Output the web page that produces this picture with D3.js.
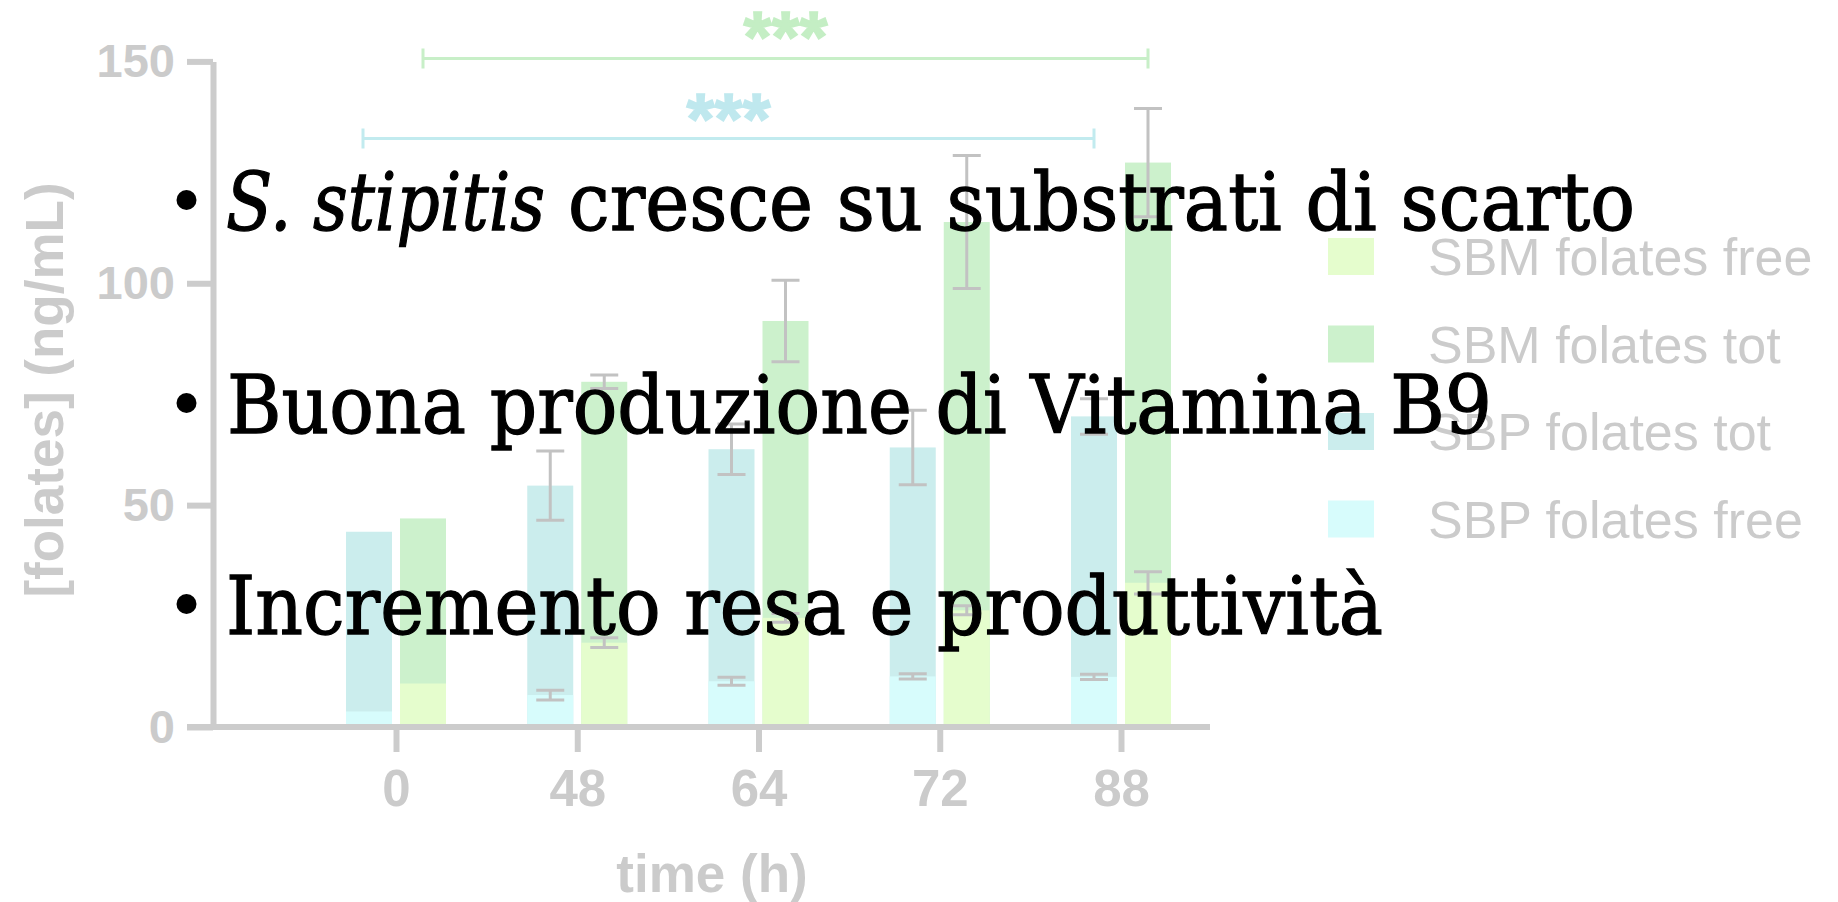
<!DOCTYPE html>
<html>
<head>
<meta charset="utf-8">
<script src="https://cdn.jsdelivr.net/npm/d3@7"></script>
<style>
  html, body { margin: 0; padding: 0; background: #fff; }
  svg { display: block; }
</style>
</head>
<body>
<div id="chart"></div>
<script>
// folates bar chart with slide bullets on top

const times = ["0", "48", "64", "72", "88"];
const sbpTot = [44, 54.4, 62.6, 63, 70];
const sbpTotErr = [0, 7.8, 5.7, 8.4, 4];
const sbpFree = [3.5, 7.2, 10.3, 11.4, 11.3];
const sbpFreeErr = [0, 1.1, 0.9, 0.6, 0.6];
const sbmTot = [47, 77.8, 91.5, 113.8, 127.2];
const sbmTotErr = [0, 1.5, 9.2, 15, 12.2];
const sbmFree = [9.8, 19, 24.6, 26.3, 32.5];
const sbmFreeErr = [0, 1.1, 1, 1, 2.5];
const yTicks = [0, 50, 100, 150];
const legendLabels = ["SBM folates free", "SBM folates tot", "SBP folates tot", "SBP folates free"];
const bullets = [
        [{ t: "S. stipitis", italic: true }, { t: "cresce su substrati di scarto", italic: false }],
        [{ t: "Buona produzione di Vitamina B9", italic: false }],
        [{ t: "Incremento resa e produttività", italic: false }]
];

const width = 1838,
      height = 902;
const grey = "#cbcbcb";
const axisGrey = "#cccccc";
const col = { sbmFree: "#e5fdcd", sbmTot: "#ccf1cc", sbpTot: "#cbeded", sbpFree: "#d7fcfc" };
const sansFont = "'Liberation Sans', Arial, sans-serif";

const svg = d3.select("#chart")
        .append("svg")
        .attr("width", width)
        .attr("height", height);

svg.append("rect").attr("width", width).attr("height", height).attr("fill", "#fff");

const y = d3.scaleLinear().domain([0, 150]).range([727, 61.4]);
const x = d3.scalePoint().domain(times).range([396, 1121]);
const barW = 46, gap = 4;

// rows for the bars
const rows = times.map((t, i) => ({
        t: t,
        sbpTot: sbpTot[i], sbpTotErr: sbpTotErr[i],
        sbpFree: sbpFree[i], sbpFreeErr: sbpFreeErr[i],
        sbmTot: sbmTot[i], sbmTotErr: sbmTotErr[i],
        sbmFree: sbmFree[i], sbmFreeErr: sbmFreeErr[i]
}));
const series = [
        { key: "sbpTot", err: "sbpTotErr", side: -1, color: col.sbpTot },
        { key: "sbpFree", err: "sbpFreeErr", side: -1, color: col.sbpFree },
        { key: "sbmTot", err: "sbmTotErr", side: 1, color: col.sbmTot },
        { key: "sbmFree", err: "sbmFreeErr", side: 1, color: col.sbmFree }
];
const barX = (t, side) => side < 0 ? x(t) - gap - barW : x(t) + gap;

const bars_g = svg.append("g").attr("id", "bars");
series.forEach(s => {
        bars_g.append("g")
                .selectAll("rect")
                .data(rows)
                .join("rect")
                .attr("x", d => barX(d.t, s.side))
                .attr("y", d => y(d[s.key]))
                .attr("width", barW)
                .attr("height", d => y(0) - y(d[s.key]))
                .attr("fill", s.color);
});

// error bars
const err_g = svg.append("g").attr("id", "errors")
        .attr("stroke", "#c2c2c2")
        .attr("stroke-width", 3)
        .attr("fill", "none");
series.forEach(s => {
        const d_ = rows.filter(d => d[s.err] > 0);
        err_g.append("g")
                .selectAll("path")
                .data(d_)
                .join("path")
                .attr("d", d => {
                        const cx = barX(d.t, s.side) + barW / 2;
                        const y1 = y(d[s.key] + d[s.err]), y2 = y(d[s.key] - d[s.err]);
                        return `M${cx - 14},${y1}H${cx + 14}M${cx},${y1}V${y2}M${cx - 14},${y2}H${cx + 14}`;
                });
});

// axes
const yAxis = d3.axisLeft(y).tickValues(yTicks).tickSize(26).tickPadding(12).tickSizeOuter(0);
const yAxis_g = svg.append("g")
        .attr("transform", "translate(213,0)")
        .call(yAxis);
yAxis_g.selectAll("path,line").attr("stroke", axisGrey).attr("stroke-width", 6);
yAxis_g.selectAll("text")
        .attr("fill", grey)
        .attr("font-family", sansFont)
        .attr("font-weight", "bold")
        .attr("font-size", 47);

svg.append("line")
        .attr("x1", 187).attr("x2", 1210)
        .attr("y1", y(0)).attr("y2", y(0))
        .attr("stroke", axisGrey)
        .attr("stroke-width", 6);

const xAxis_g = svg.append("g")
        .attr("transform", `translate(0,${y(0)})`)
        .call(d3.axisBottom(x).tickSize(25).tickPadding(18));
xAxis_g.select(".domain").remove();
xAxis_g.selectAll("line").attr("stroke", axisGrey).attr("stroke-width", 6);
xAxis_g.selectAll("text")
        .attr("fill", grey)
        .attr("font-family", sansFont)
        .attr("font-weight", "bold")
        .attr("font-size", 51);

svg.append("text")
        .attr("x", 712)
        .attr("y", 892)
        .attr("text-anchor", "middle")
        .attr("fill", grey)
        .attr("font-family", sansFont)
        .attr("font-weight", "bold")
        .attr("font-size", 53)
        .text("time (h)");

svg.append("text")
        .attr("transform", "translate(63,390) rotate(-90)")
        .attr("text-anchor", "middle")
        .attr("fill", grey)
        .attr("font-family", sansFont)
        .attr("font-weight", "bold")
        .attr("font-size", 53)
        .text("[folates] (ng/mL)");

// significance brackets
const brackets = [
        { from: barX(times[0], 1) + barW / 2, to: barX(times[4], 1) + barW / 2, yy: 58.5, color: "#c8efc8", star: "#c4eec4", sy: 62 },
        { from: barX(times[0], -1) + barW / 2 - 6, to: barX(times[4], -1) + barW / 2, yy: 138.5, color: "#c2ebef", star: "#bfe8ee", sy: 144 }
];
const br_g = svg.append("g").attr("id", "brackets");
brackets.forEach(b => {
        br_g.append("path")
                .attr("d", `M${b.from},${b.yy - 10}V${b.yy + 10}M${b.from},${b.yy}H${b.to}M${b.to},${b.yy - 10}V${b.yy + 10}`)
                .attr("stroke", b.color)
                .attr("stroke-width", 3)
                .attr("fill", "none");
        br_g.append("text")
                .attr("x", (b.from + b.to) / 2)
                .attr("y", b.sy)
                .attr("text-anchor", "middle")
                .attr("fill", b.star)
                .attr("stroke", b.star)
                .attr("stroke-width", 1.5)
                .attr("font-family", sansFont)
                .attr("font-weight", "bold")
                .attr("font-size", 72)
                .text("***");
});

// legend
const legendColors = [col.sbmFree, col.sbmTot, col.sbpTot, col.sbpFree];
const legend_g = svg.append("g").attr("id", "legend");
const leg = legend_g.selectAll("g")
        .data(legendLabels)
        .join("g")
        .attr("transform", (d, i) => `translate(1328,${238 + i * 87.5})`);
leg.append("rect")
        .attr("width", 46)
        .attr("height", 37)
        .attr("fill", (d, i) => legendColors[i]);
leg.append("text")
        .attr("x", 100)
        .attr("y", 37)
        .attr("fill", grey)
        .attr("font-family", sansFont)
        .attr("font-size", 52)
        .text(d => d);

// bullet text over the chart
const lineX = [[226, 568], [227], [226]];
const lineLen = [[319, 1067], [1265], [1157]];
const baselines = [230, 433, 634];
const text_g = svg.append("g").attr("id", "bullets");
bullets.forEach((parts, i) => {
        text_g.append("circle")
                .attr("cx", 186.5)
                .attr("cy", baselines[i] - 30)
                .attr("r", 10)
                .attr("fill", "#000");
        parts.forEach((p, j) => {
                text_g.append("text")
                        .attr("x", lineX[i][j])
                        .attr("y", baselines[i])
                        .attr("font-family", "'DejaVu Serif', serif")
                        .attr("font-style", p.italic ? "italic" : "normal")
                        .attr("font-size", 81)
                        .attr("fill", "#000")
                        .attr("stroke", "#000")
                        .attr("stroke-width", 1.3)
                        .attr("textLength", lineLen[i][j])
                        .attr("lengthAdjust", "spacingAndGlyphs")
                        .text(p.t);
        });
});
</script>
</body>
</html>
